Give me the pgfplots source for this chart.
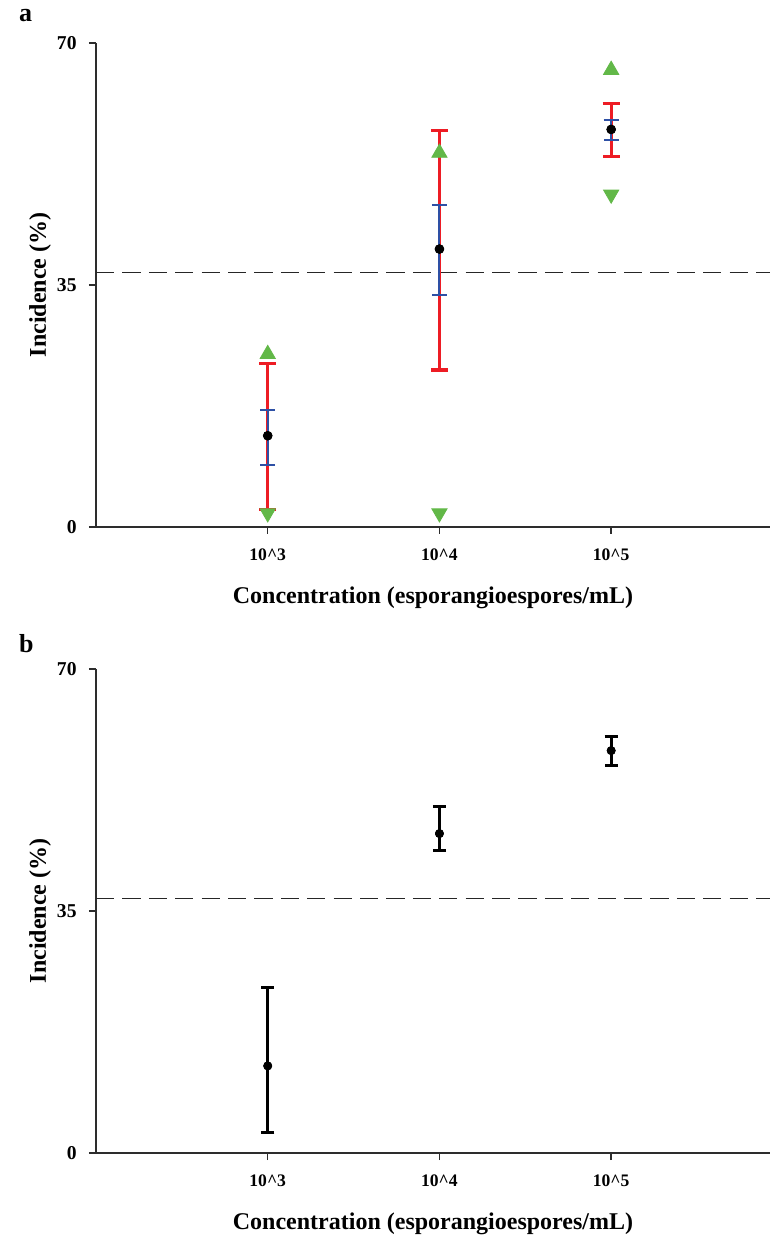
\documentclass[border=0pt]{standalone}
\usepackage{fontspec}
\setmainfont{Liberation Serif}
\usepackage{pgfplots}
\pgfplotsset{compat=1.18}

\definecolor{barred}{RGB}{237,28,36}
\definecolor{barblue}{RGB}{46,80,165}
\definecolor{trigreen}{RGB}{98,184,72}
\definecolor{axgray}{RGB}{45,45,45}

\pgfplotsset{
  incid/.style={
    scale only axis, width=337pt, height=242pt,
    xmin=0, xmax=3.925, ymin=0, ymax=70,
    clip=false,
    axis x line=bottom, axis y line=left,
    axis line style={-, axgray, line width=0.75pt},
    tick style={axgray, line width=0.75pt},
    tick align=outside, major tick length=3.5pt,
    xtick={1,2,3},
    xticklabels={10\textasciicircum 3,10\textasciicircum 4,10\textasciicircum 5},
    ytick={0,35,70},
    /pgf/number format/assume math mode=true,
    xticklabel style={font=\bfseries\fontsize{8.8}{10}\selectfont, anchor=base, yshift=-13.3pt},
    yticklabel style={font=\bfseries\fontsize{9.8}{11}\selectfont, anchor=east, inner sep=0pt, xshift=-6pt},
    xlabel={Concentration (esporangioespores/mL)},
    ylabel={Incidence (\%)},
    every axis x label/.style={at={(axis description cs:0.5,0)}, anchor=base, yshift=-38.3pt,
      font=\bfseries\fontsize{12}{14}\selectfont},
    every axis y label/.style={at={(axis description cs:-0.083,0.5)}, rotate=90, anchor=center,
      font=\bfseries\fontsize{12}{14}\selectfont},
  },
  ebar/.style n args={3}{only marks, mark=none, forget plot,
    error bars/.cd, y dir=both, y explicit,
    error bar style={#1, line width=#2},
    error mark options={#1, line width=#2, rotate=90, mark size=#3}},
}

\begin{document}
\begin{tikzpicture}
\useasboundingbox (-48pt,-356.5pt) rectangle (337pt,263.5pt);

% panel a
\begin{axis}[incid, at={(0,0)}]
\addplot[black!85, line width=0.7pt, dash pattern=on 9.1pt off 4.1pt] coordinates {(0,36.8) (3.925,36.8)};
\addplot[ebar={barred}{1.6pt}{4.25pt}] coordinates {
  (1,13.2) += (0,10.4) -= (0,10.7)
  (2,40.2) += (0,17.1) -= (0,17.5)
  (3,57.5) += (0,3.8) -= (0,3.9)
};
\addplot[ebar={barblue}{1pt}{3.75pt}] coordinates {
  (1,13.2) += (0,3.7) -= (0,4.2)
  (2,40.2) += (0,6.3) -= (0,6.6)
  (3,57.5) += (0,1.3) -= (0,1.5)
};
\addplot[only marks, mark=*, mark size=2.2pt, black] coordinates {(1,13.2) (2,40.2) (3,57.5)};
\addplot[only marks, mark=triangle*, mark size=4.4pt, trigreen, mark options={draw=trigreen, fill=trigreen}] coordinates {(1,25.0) (2,54.1) (3,66.1)};
\addplot[only marks, mark=triangle*, mark size=4.4pt, trigreen, mark options={draw=trigreen, fill=trigreen, rotate=180}] coordinates {(1,2.0) (2,2.0) (3,48.1)};
\end{axis}
\node[anchor=base west, font=\bfseries\fontsize{13}{15}\selectfont] at (-42pt,252.5pt) {a};

% panel b
\begin{axis}[incid, at={(0,-313pt)}]
\addplot[black!85, line width=0.7pt, dash pattern=on 9.1pt off 4.1pt] coordinates {(0,36.8) (3.925,36.8)};
\addplot[ebar={black}{1.5pt}{3.3pt}] coordinates {
  (1,12.6) += (0,11.4) -= (0,9.6)
  (2,46.2) += (0,3.9) -= (0,2.4)
  (3,58.2) += (0,2.0) -= (0,2.1)
};
\addplot[only marks, mark=*, mark size=2pt, black] coordinates {(1,12.6) (2,46.2) (3,58.2)};
\end{axis}
\node[anchor=base west, font=\bfseries\fontsize{13}{15}\selectfont] at (-42pt,-63pt) {b};
\end{tikzpicture}
\end{document}
